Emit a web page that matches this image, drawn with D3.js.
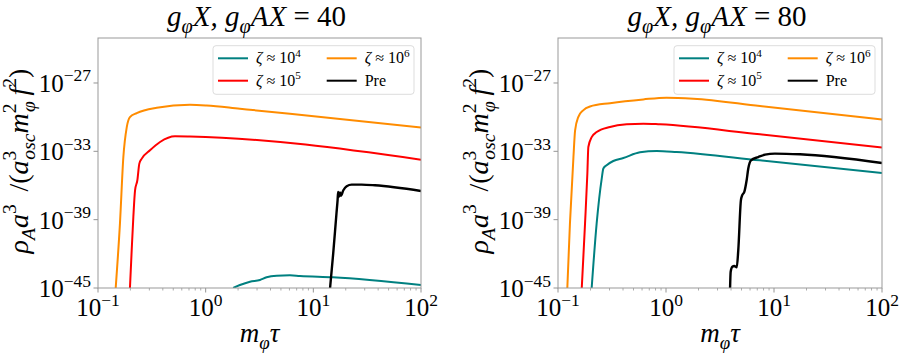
<!DOCTYPE html>
<html>
<head>
<meta charset="utf-8">
<script src="https://cdn.jsdelivr.net/npm/d3@7"></script>
<style>
  body { margin: 0; background: #fff; }
  svg { display: block; }
</style>
</head>
<body>
<div id="chart"></div>
<script>
// m_phi * tau values (x) and rho_A a^3 / (a_osc^3 m^2 f^2) values (y)

// ---- g = 40 ----
let x40_z4 = [1.80, 2.08, 2.58, 3.19, 3.68, 4.56, 6.06, 7.51, 15.2, 100];
let y40_z4 = [1e-45, 1.82e-45, 3.55e-45, 5.01e-45, 8.71e-45, 1.20e-44, 1.29e-44, 1.12e-44, 8.71e-45, 1.82e-45];

let x40_z5 = [0.198, 0.2056, 0.213, 0.221, 0.232, 0.242, 0.255, 0.304, 0.377, 0.519, 0.715, 100];
let y40_z5 = [1e-45, 2.14e-42, 1.78e-39, 3.89e-37, 2.88e-36, 8.32e-35, 2.29e-34, 1.23e-33, 6.61e-33, 2.09e-32, 2.00e-32, 1.86e-34];

let x40_z6 = [0.146, 0.160, 0.172, 0.185, 0.198, 0.229, 0.351, 0.715, 1.02, 2.08, 6.06, 100];
let y40_z6 = [1e-45, 5.01e-40, 3.16e-34, 1.35e-31, 1.02e-30, 2.29e-30, 6.76e-30, 1.23e-29, 1.07e-29, 5.50e-30, 2.00e-30, 1.26e-31];

let x40_pre = [14.3, 15.3, 16.4, 16.8, 17.0, 17.3, 17.7, 18.0, 19.0, 20.4, 22.7, 28.1, 37.3, 100];
let y40_pre = [1e-45, 1.10e-42, 3.47e-39, 5.13e-38, 2.75e-37, 1.0e-37, 2.51e-37, 1.26e-37, 3.80e-37, 8.71e-37, 1.20e-36, 1.20e-36, 1.05e-36, 3.31e-37];

// ---- g = 80 ----
let x80_z4 = [0.205, 0.228, 0.254, 0.263, 0.282, 0.325, 0.403, 0.574, 0.82, 1.256, 7.41, 100];
let y80_z4 = [1e-45, 4.68e-40, 4.07e-36, 3.09e-35, 6.03e-35, 1.41e-34, 2.57e-34, 8.13e-34, 1.07e-33, 8.71e-34, 1.62e-34, 1.26e-35];

let x80_z5 = [0.166, 0.178, 0.187, 0.191, 0.205, 0.228, 0.303, 0.432, 0.617, 0.879, 7.41, 100];
let y80_z5 = [1e-45, 4.68e-40, 1.12e-35, 2.40e-33, 1.78e-32, 4.90e-32, 1.35e-31, 2.34e-31, 2.69e-31, 2.34e-31, 3.09e-32, 2.14e-33];

let x80_z6 = [0.122, 0.129, 0.139, 0.144, 0.154, 0.171, 0.198, 0.303, 0.616, 1.01, 1.79, 7.41, 100];
let y80_z6 = [1e-45, 4.68e-40, 3.16e-34, 6.92e-32, 1.02e-30, 3.98e-30, 8.71e-30, 1.70e-29, 3.63e-29, 5.13e-29, 4.17e-29, 9.33e-30, 6.31e-31];

let x80_pre = [3.92, 3.97, 4.11, 4.29, 4.52, 4.67, 4.94, 5.08, 5.31, 5.58, 5.78, 6.12, 7.16, 8.26, 10.2, 17.4, 100];
let y80_pre = [1e-45, 2.69e-44, 7.41e-44, 8.51e-44, 6.46e-44, 2.14e-42, 5.13e-38, 1.41e-37, 2.75e-37, 2.88e-36, 3.09e-35, 1.62e-34, 3.16e-34, 5.13e-34, 6.31e-34, 5.50e-34, 9.55e-35];

let xTicks = [0.1, 1, 10, 100];
let xTickExp = ["\u22121", "0", "1", "2"];
let yTicks = [1e-27, 1e-33, 1e-39, 1e-45];
let yTickExp = ["\u221227", "\u221233", "\u221239", "\u221245"];
let gValues = ["40", "80"];

let seriesNames = ["z4", "z5", "z6", "pre"];
let seriesLabels = ["4", "5", "6", "Pre"];
let colors = { z4: "#008080", z5: "#ff0000", z6: "#ff8c00", pre: "#000000" };

let panels = [
	{ g: gValues[0], left: 98, right: 421,
	  series: { z4: [x40_z4, y40_z4], z5: [x40_z5, y40_z5], z6: [x40_z6, y40_z6], pre: [x40_pre, y40_pre] } },
	{ g: gValues[1], left: 558, right: 882,
	  series: { z4: [x80_z4, y80_z4], z5: [x80_z5, y80_z5], z6: [x80_z6, y80_z6], pre: [x80_pre, y80_pre] } }
];

let width = 899, height = 354;
let plotTop = 38, plotBottom = 288;
let serif = 'Liberation Serif';

let svg = d3.select('#chart')
	.append('svg')
	.attr('width', width)
	.attr('height', height);

// writes simple TeX-like text: parts are [string, kind, italic, dx]
function rich(sel, parts, size) {
	let shift = 0;
	sel.attr('font-family', serif).attr('fill', '#000');
	parts.forEach(p => {
		let kind = p[1] || '';
		let target = kind === 'sup' ? -0.42 * size : kind === 'sub' ? 0.25 * size : 0;
		let ts = sel.append('tspan')
			.text(p[0])
			.attr('font-family', serif)
			.attr('dy', target - shift)
			.attr('font-size', kind ? size * 0.7 : size)
			.attr('font-style', p[2] ? 'italic' : 'normal');
		if (p[3]) ts.attr('dx', p[3]);
		shift = target;
	});
}

panels.forEach((panel, pi) => {
	let x = d3.scaleLog().domain([0.1, 100]).range([panel.left, panel.right]);
	let y = d3.scaleLog().domain([1e-45, Math.pow(10, -23.05)]).range([plotBottom, plotTop]);

	let g = svg.append('g');

	let clipId = 'clip' + pi;
	g.append('clipPath').attr('id', clipId)
		.append('rect')
		.attr('x', panel.left).attr('y', plotTop)
		.attr('width', panel.right - panel.left).attr('height', plotBottom - plotTop);

	// minor x ticks
	let minor = [];
	for (let d = 0.1; d < 100; d *= 10) {
		for (let k = 2; k <= 9; k++) minor.push(d * k);
	}
	g.selectAll('.minor').data(minor).enter().append('line')
		.attr('x1', d => x(d)).attr('x2', d => x(d))
		.attr('y1', plotBottom).attr('y2', plotBottom + 2.5)
		.attr('stroke', '#888').attr('stroke-width', 0.7);

	g.selectAll('.xmajor').data(xTicks).enter().append('line')
		.attr('x1', d => x(d)).attr('x2', d => x(d))
		.attr('y1', plotBottom).attr('y2', plotBottom + 4.5)
		.attr('stroke', '#888').attr('stroke-width', 0.9);

	g.selectAll('.ymajor').data(yTicks).enter().append('line')
		.attr('x1', panel.left - 4.5).attr('x2', panel.left)
		.attr('y1', d => y(d)).attr('y2', d => y(d))
		.attr('stroke', '#888').attr('stroke-width', 0.9);

	// tick labels
	xTicks.forEach((t, i) => {
		let lab = g.append('text')
			.attr('x', x(t)).attr('y', 316)
			.attr('text-anchor', 'middle');
		rich(lab, [["10"], [xTickExp[i], 'sup']], 25);
	});
	yTicks.forEach((t, i) => {
		let lab = g.append('text')
			.attr('x', panel.left - 7).attr('y', y(t) + 9)
			.attr('text-anchor', 'end');
		rich(lab, [["10"], [yTickExp[i], 'sup']], 25);
	});

	// curves
	let line = d3.line()
		.x(d => x(d[0]))
		.y(d => y(d[1]))
		.curve(d3.curveMonotoneX);

	seriesNames.forEach(name => {
		let s = panel.series[name];
		let pts = s[0].map((v, i) => [v, s[1][i]]);
		g.append('path')
			.datum(pts)
			.attr('clip-path', 'url(#' + clipId + ')')
			.attr('fill', 'none')
			.attr('stroke', colors[name])
			.attr('stroke-width', name === 'pre' ? 2.4 : 2)
			.attr('stroke-linejoin', 'round')
			.attr('d', line);
	});

	// frame
	g.append('rect')
		.attr('x', panel.left).attr('y', plotTop)
		.attr('width', panel.right - panel.left).attr('height', plotBottom - plotTop)
		.attr('fill', 'none').attr('stroke', '#999').attr('stroke-width', 1);

	// legend
	let lx = panel.right - 208, ly = 45.7;
	g.append('rect')
		.attr('x', lx).attr('y', ly).attr('width', 201).attr('height', 48.6)
		.attr('rx', 3)
		.attr('fill', '#fff').attr('fill-opacity', 0.8)
		.attr('stroke', '#ddd').attr('stroke-width', 1);
	let legendPos = { z4: [0, 0], z5: [0, 1], z6: [1, 0], pre: [1, 1] };
	seriesNames.forEach((name, i) => {
		let cx = lx + 5 + legendPos[name][0] * 108.7;
		let cy = ly + 12.6 + legendPos[name][1] * 22.4;
		g.append('line')
			.attr('x1', cx).attr('x2', cx + 30)
			.attr('y1', cy).attr('y2', cy)
			.attr('stroke', colors[name]).attr('stroke-width', 2);
		let t = g.append('text').attr('x', cx + 38).attr('y', cy + 5);
		if (name === 'pre') {
			rich(t, [["Pre"]], 16);
		} else {
			rich(t, [["\u03B6", '', true], [" \u2248 10"], [seriesLabels[i], 'sup']], 16);
		}
	});

	// title
	let mid = (panel.left + panel.right) / 2;
	let title = g.append('text')
		.attr('x', mid - 3).attr('y', 26)
		.attr('text-anchor', 'middle');
	rich(title, [["g", '', true], ["\u03C6", 'sub', true], ["X, g", '', true], ["\u03C6", 'sub', true], ["AX", '', true], [" = " + panel.g]], 29);

	// x label
	let xl = g.append('text')
		.attr('x', mid).attr('y', 342)
		.attr('text-anchor', 'middle');
	rich(xl, [["m", '', true], ["\u03C6", 'sub', true], ["\u03C4", '', true]], 27);

	// y label
	let yl = g.append('text')
		.attr('transform', 'translate(' + (panel.left - 70) + ',' + 161 + ') rotate(-90)')
		.attr('text-anchor', 'middle');
	rich(yl, [["\u03C1", '', true], ["A", 'sub', true], ["a", '', true], ["3", 'sup'],
		["\u2009 /(", '', false], ["a", '', true], ["3", 'sup'], ["osc", 'sub', true, -9], ["m", '', true], ["2", 'sup'], ["\u03C6", 'sub', true, -8.5],
		["\u2009f", '', true], ["2", 'sup'], [")"]], 28);
});
</script>
</body>
</html>
